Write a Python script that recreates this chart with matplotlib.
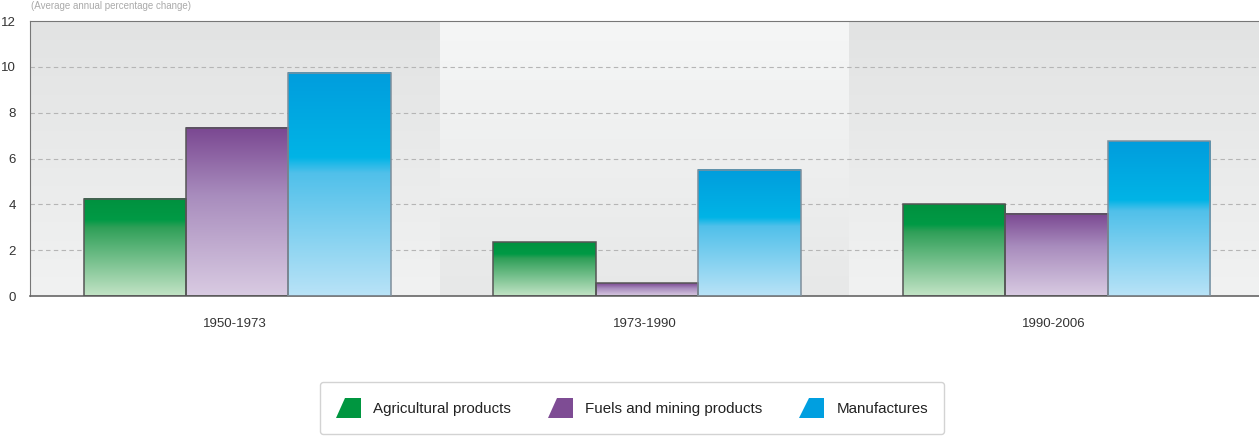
import numpy as np
import matplotlib
matplotlib.use("Agg")
import matplotlib.pyplot as plt
from matplotlib.colors import LinearSegmentedColormap
from matplotlib.patches import Rectangle, Polygon
from matplotlib.legend_handler import HandlerPatch

periods = ["1950-1973", "1973-1990", "1990-2006"]
series = ["Agricultural products", "Fuels and mining products", "Manufactures"]
agri = [4.25, 2.35, 4.0]
fuels = [7.35, 0.55, 3.6]
manuf = [9.75, 5.5, 6.75]
yticks = [0, 2, 4, 6, 8, 10, 12]

plt.rcParams["font.family"] = ["Liberation Sans", "DejaVu Sans"]

# gradient colours (bottom -> top)
cmaps = [
    LinearSegmentedColormap.from_list("g", [(0, "#c3e4c6"), (0.7, "#2f9f58"), (0.78, "#009a45"), (1, "#00913f")]),
    LinearSegmentedColormap.from_list("p", [(0, "#d9cbe2"), (0.6, "#a88cbd"), (1, "#7a4791")]),
    LinearSegmentedColormap.from_list("b", [(0, "#b9e3f7"), (0.55, "#50c0ea"), (0.62, "#00b4e6"), (1, "#009ddd")]),
]
edges = ["#555555", "#555555", "#7f8f9c"]
solid = ["#009640", "#7e4c94", "#009fe0"]

fig = plt.figure(figsize=(12.59, 4.36), dpi=100)
ax = fig.add_axes([0.0238, 0.3211, 0.9762, 0.6307])

grad = np.linspace(0, 1, 256).reshape(-1, 1)
band_dark = LinearSegmentedColormap.from_list("bd", ["#f1f2f2", "#e2e3e3"])
band_light = LinearSegmentedColormap.from_list("bl", ["#e7e8e8", "#f5f6f6"])
for i in range(len(periods)):
    cm = band_light if i % 2 else band_dark
    ax.imshow(grad, extent=[i - 0.5, i + 0.5, 0, 12], origin="lower",
              aspect="auto", cmap=cm, zorder=0)

w = 0.25
for j, vals in enumerate([agri, fuels, manuf]):
    for i, v in enumerate(vals):
        x0 = i + (j - 1.5) * w + 0.006
        ax.imshow(grad, extent=[x0, x0 + w, 0, v], origin="lower",
                  aspect="auto", cmap=cmaps[j], zorder=2)
        ax.add_patch(Rectangle((x0, 0), w, v, fill=False, edgecolor=edges[j],
                               linewidth=1.1, zorder=3))

ax.set_xlim(-0.5, len(periods) - 0.5)
ax.set_ylim(0, 12)
ax.set_yticks(yticks)
ax.set_yticklabels([str(t) for t in yticks], fontsize=9.5, color="#333333")
ax.set_xticks(range(len(periods)))
ax.set_xticklabels(periods, fontsize=9.5, color="#333333")
ax.tick_params(length=0)
ax.tick_params(axis="y", pad=10)
ax.tick_params(axis="x", pad=16)
for t in yticks[1:-1]:
    ax.axhline(t, color="#b5b5b5", linestyle=(0, (4, 3)), linewidth=0.8, zorder=1)
for s in ["left", "top"]:
    ax.spines[s].set_color("#777777")
ax.spines["bottom"].set_color("#666666")
ax.spines["bottom"].set_linewidth(1.2)
ax.spines["right"].set_visible(False)

fig.text(0.025, 0.998, "(Average annual percentage change)", fontsize=7,
         color="#aaaaaa", va="top", ha="left")


class SlantHandler(HandlerPatch):
    def create_artists(self, legend, orig_handle, xdescent, ydescent,
                       width, height, fontsize, trans):
        pts = [(-xdescent, -ydescent), (-xdescent + width, -ydescent),
               (-xdescent + width, -ydescent + height),
               (-xdescent + 0.38 * width, -ydescent + height)]
        p = Polygon(pts, closed=True, facecolor=orig_handle.get_facecolor(),
                    edgecolor="none", transform=trans, joinstyle="round")
        return [p]


handles = [Rectangle((0, 0), 1, 1, facecolor=c) for c in solid]
leg = fig.legend(handles, series, loc="center", bbox_to_anchor=(0.502, 0.064),
                 ncol=3, fontsize=10.9, frameon=True, fancybox=True,
                 handlelength=1.65, handleheight=1.7, handletextpad=0.8,
                 columnspacing=2.45, borderpad=1.05,
                 handler_map={Rectangle: SlantHandler()})
leg.get_frame().set_edgecolor("#c8c8c8")
leg.get_frame().set_linewidth(1.0)
for t in leg.get_texts():
    t.set_color("#222222")

fig.savefig("out.png", dpi=100)
